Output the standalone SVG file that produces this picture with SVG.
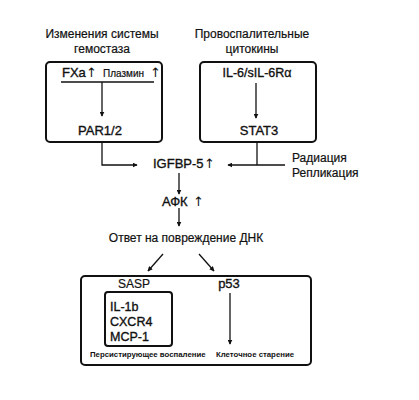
<svg xmlns="http://www.w3.org/2000/svg" width="419" height="400" viewBox="0 0 419 400">
<style>
.t{font-family:"Liberation Sans",Arial,sans-serif;font-size:12px;fill:#111;stroke:#111;stroke-width:0.2}
.m{font-size:13px;stroke-width:0.35}
.ar{font-family:"DejaVu Sans",sans-serif;font-size:13px;fill:#111}
.s{font-family:"Liberation Sans",Arial,sans-serif;font-size:7.8px;font-weight:bold;fill:#111}
.box{fill:none;stroke:#111;stroke-width:2}
.ln{fill:none;stroke:#111;stroke-width:1.3}
</style>
<defs>
<marker id="ah" viewBox="0 0 8 8" refX="7" refY="4" markerWidth="5" markerHeight="5" orient="auto" markerUnits="userSpaceOnUse">
<path d="M0,0 L8,4 L0,8 z" fill="#111"/>
</marker>
</defs>
<rect width="419" height="400" fill="#fff"/>
<g id="title-left">
<text class="t" x="102" y="38" text-anchor="middle">Изменения системы</text>
<text class="t" x="102" y="53" text-anchor="middle">гемостаза</text>
</g>
<g id="title-right">
<text class="t" x="252" y="38" text-anchor="middle">Провоспалительные</text>
<text class="t" x="252" y="53" text-anchor="middle">цитокины</text>
</g>
<g id="box-hemostasis">
<rect class="box" x="46" y="62" width="116" height="80" rx="4"/>
<text class="t m" x="62" y="77">FXa</text>
<text class="ar" x="86" y="77">↑</text>
<text class="t" x="103" y="77" style="font-size:10px">Плазмин</text>
<text class="ar" x="150" y="77">↑</text>
<line class="ln" x1="61" y1="82" x2="154" y2="82"/>
<text class="t m" x="100" y="135" text-anchor="middle">PAR1/2</text>
</g>
<g id="box-cytokines">
<rect class="box" x="200" y="62" width="116" height="80" rx="4"/>
<text class="t m" x="257" y="77" text-anchor="middle" style="font-size:12.5px">IL-6/sIL-6Rα</text>
<text class="t m" x="259" y="135" text-anchor="middle">STAT3</text>
</g>
<g id="igfbp">
<text class="t m" x="153" y="168">IGFBP-5</text>
<text class="ar" x="204" y="168">↑</text>
</g>
<g id="factors">
<text class="t" x="292" y="162">Радиация</text>
<text class="t" x="292" y="177">Репликация</text>
</g>
<g id="afk">
<text class="t m" x="162" y="206">АФК</text>
<text class="ar" x="193" y="206">↑</text>
</g>
<g id="ddr">
<text class="t" x="186" y="242" text-anchor="middle">Ответ на повреждение ДНК</text>
</g>
<g id="box-outcomes">
<rect class="box" x="81" y="276" width="230" height="89" rx="4"/>
<text class="t" x="134" y="288" text-anchor="middle">SASP</text>
<text class="t m" x="229" y="288" text-anchor="middle">p53</text>
<rect class="box" x="105" y="292" width="67" height="54" rx="3"/>
<text class="t m" x="110" y="311" style="font-size:12.5px">IL-1b</text>
<text class="t m" x="110" y="326" style="font-size:12.5px">CXCR4</text>
<text class="t m" x="110" y="341" style="font-size:12.5px">MCP-1</text>
<text class="s" x="90" y="357">Персистирующее воспаление</text>
<text class="s" x="216" y="357">Клеточное старение</text>
</g>
<g id="connectors">
<line class="ln" x1="102" y1="82" x2="102" y2="116" marker-end="url(#ah)"/>
<line class="ln" x1="256" y1="83" x2="256" y2="118" marker-end="url(#ah)"/>
<polyline class="ln" points="102,142 102,165 137,165" marker-end="url(#ah)"/>
<line class="ln" x1="257" y1="142" x2="257" y2="165"/>
<line class="ln" x1="285" y1="165" x2="228" y2="165" marker-end="url(#ah)"/>
<line class="ln" x1="179" y1="173" x2="179" y2="194" marker-end="url(#ah)"/>
<line class="ln" x1="179" y1="208" x2="179" y2="226" marker-end="url(#ah)"/>
<line class="ln" x1="163" y1="254" x2="148" y2="271" marker-end="url(#ah)"/>
<line class="ln" x1="199" y1="254" x2="214" y2="271" marker-end="url(#ah)"/>
<line class="ln" x1="230" y1="293" x2="230" y2="344" marker-end="url(#ah)"/>
</g>
</svg>
